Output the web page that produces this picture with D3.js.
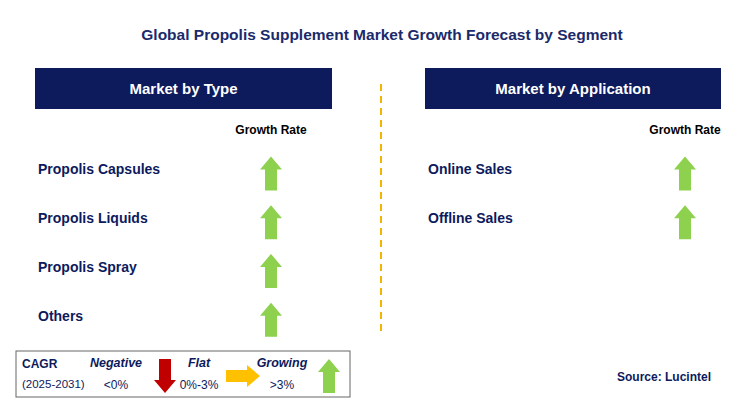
<!DOCTYPE html>
<html><head><meta charset="utf-8">
<script src="https://cdn.jsdelivr.net/npm/d3@7"></script>
<style>body{margin:0;background:#fff}text{font-family:"Liberation Sans",Arial,sans-serif}</style>
</head><body>
<script>
const typeCategories = ["Propolis Capsules","Propolis Liquids","Propolis Spray","Others"];
const typeGrowth = ["growing","growing","growing","growing"];
const appCategories = ["Online Sales","Offline Sales"];
const appGrowth = ["growing","growing"];
const legendItems = [{label:"Negative",range:"<0%",kind:"negative"},{label:"Flat",range:"0%-3%",kind:"flat"},{label:"Growing",range:">3%",kind:"growing"}];

const W=737,H=420,navy="#0d1a5c";
const svg=d3.select("body").append("svg").attr("width",W).attr("height",H);
svg.append("text").attr("x",382).attr("y",40).attr("text-anchor","middle").attr("font-size",15.5).attr("font-weight","bold").attr("fill","#1b2a6b").text("Global Propolis Supplement Market Growth Forecast by Segment");
svg.append("line").attr("x1",381).attr("x2",381).attr("y1",84).attr("y2",336).attr("stroke","#f5b400").attr("stroke-width",2).attr("stroke-dasharray","7,5");

function arrow(g,cx,cy,kind){
  if(kind==="growing"){
    g.append("path").attr("d",`M${cx},${cy-17} L${cx+11},${cy-4} L${cx+6},${cy-4} L${cx+6},${cy+17} L${cx-6},${cy+17} L${cx-6},${cy-4} L${cx-11},${cy-4} Z`).attr("fill","#8dd14f");
  } else if(kind==="negative"){
    g.append("path").attr("d",`M${cx},${cy+17} L${cx+11},${cy+4} L${cx+6},${cy+4} L${cx+6},${cy-17} L${cx-6},${cy-17} L${cx-6},${cy+4} L${cx-11},${cy+4} Z`).attr("fill","#c00000");
  } else {
    g.append("path").attr("d",`M${cx+17},${cy} L${cx+4},${cy-11} L${cx+4},${cy-6} L${cx-17},${cy-6} L${cx-17},${cy+6} L${cx+4},${cy+6} L${cx+4},${cy+11} Z`).attr("fill","#ffc000");
  }
}

function panel(x0,x1,title,cats,growth,arrowX){
  svg.append("rect").attr("x",x0).attr("y",68).attr("width",x1-x0).attr("height",41).attr("fill",navy);
  svg.append("text").attr("x",(x0+x1)/2).attr("y",94).attr("text-anchor","middle").attr("fill","#fff").attr("font-size",15).attr("font-weight","bold").text(title);
  svg.append("text").attr("x",arrowX).attr("y",134).attr("text-anchor","middle").attr("font-size",12).attr("font-weight","bold").attr("fill","#000").text("Growth Rate");
  const y=d3.scaleBand().domain(d3.range(4)).range([145,340]);
  cats.forEach((c,i)=>{
    const cy=y(i)+y.bandwidth()/2;
    svg.append("text").attr("x",x0+3).attr("y",cy+5).attr("font-size",14).attr("font-weight","bold").attr("fill",navy).text(c);
    arrow(svg,arrowX,cy+4,growth[i]);
  });
}
panel(35,332,"Market by Type",typeCategories,typeGrowth,271);
panel(425,721,"Market by Application",appCategories,appGrowth,685);

// legend
const lg=svg.append("g");
lg.append("rect").attr("x",16).attr("y",351).attr("width",334).attr("height",46).attr("fill","#fff").attr("stroke","#666").attr("stroke-width",1);
lg.append("text").attr("x",22).attr("y",368).attr("font-size",12).attr("font-weight","bold").attr("fill",navy).text("CAGR");
lg.append("text").attr("x",22).attr("y",388).attr("font-size",11.5).attr("fill",navy).text("(2025-2031)");
const lx=d3.scalePoint().domain(legendItems.map(d=>d.label)).range([116,282]);
legendItems.forEach(d=>{
  const x=lx(d.label);
  lg.append("text").attr("x",x).attr("y",367).attr("text-anchor","middle").attr("font-size",12.5).attr("font-weight","bold").attr("font-style","italic").attr("fill",navy).text(d.label);
  lg.append("text").attr("x",x).attr("y",389).attr("text-anchor","middle").attr("font-size",12).attr("fill",navy).text(d.range);
  const ax = d.kind==="flat"? x+42 : x+47;
  arrow(lg,d.kind==="negative"?x+49:(d.kind==="flat"?x+44:x+47),376,d.kind);
});
svg.append("text").attr("x",711).attr("y",381).attr("text-anchor","end").attr("font-size",12).attr("font-weight","bold").attr("fill",navy).text("Source: Lucintel");
</script>
</body></html>
